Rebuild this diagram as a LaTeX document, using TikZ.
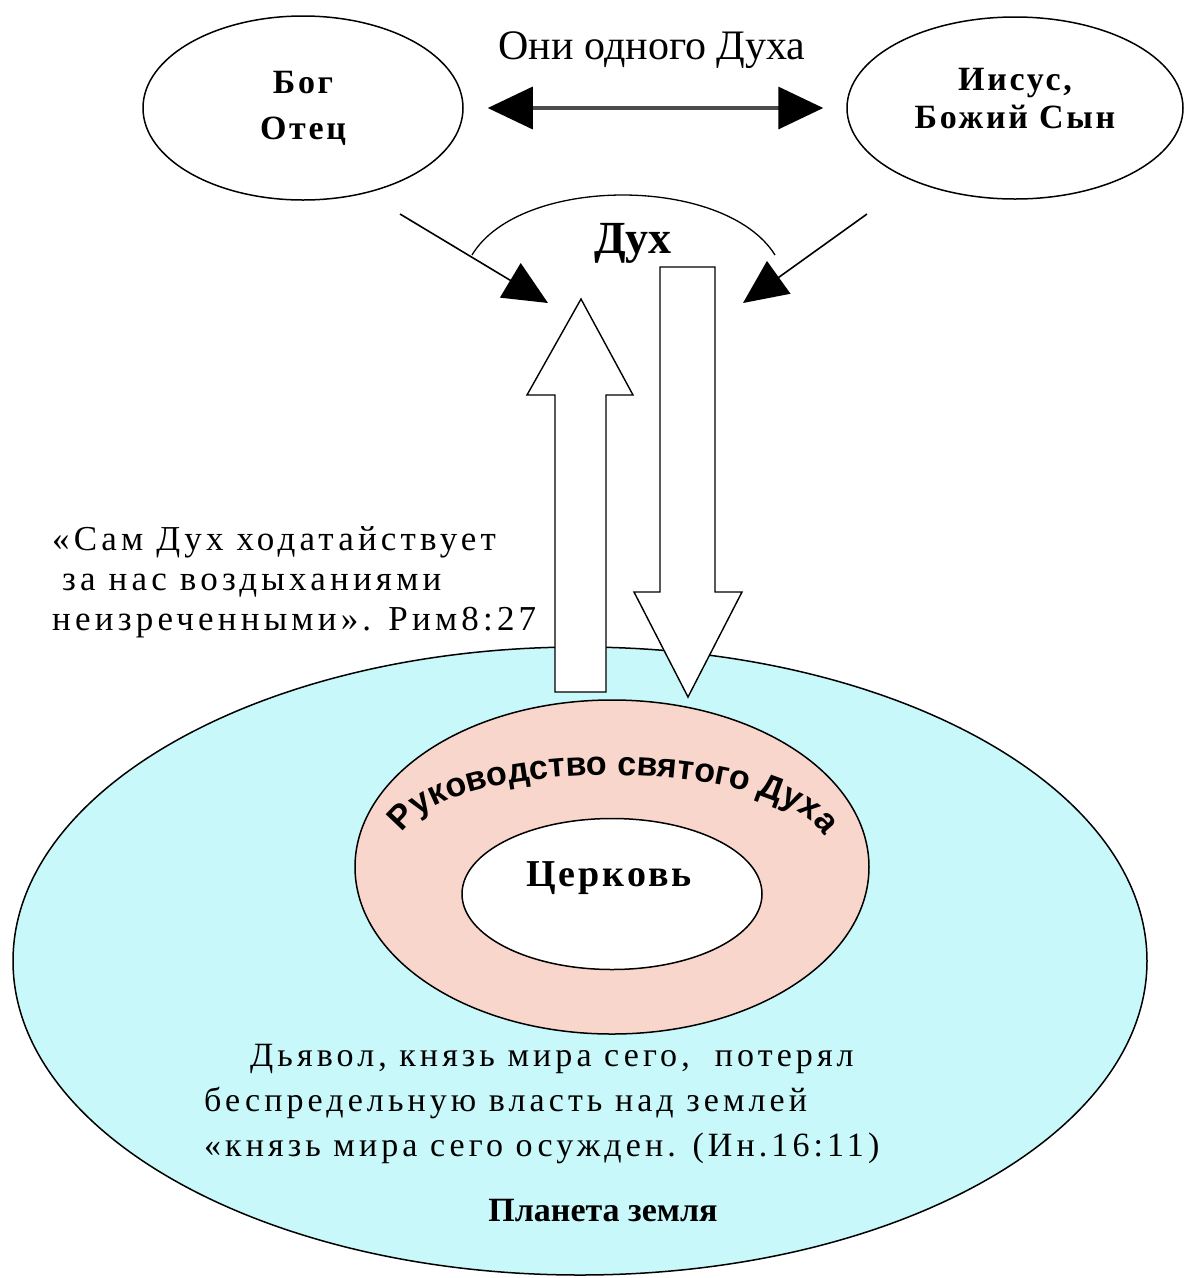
\documentclass[tikz,border=0pt]{standalone}
\usepackage{fontspec}
\setmainfont{Liberation Serif}
\newfontfamily\arialbd{Liberation Sans}
\newfontfamily\razr[LetterSpace=12]{Liberation Serif}
\newfontfamily\razrbf[LetterSpace=8]{Liberation Serif}
\usepackage{tikz}
\usetikzlibrary{calc,positioning,arrows.meta,shapes.geometric,%
  decorations.text}
\usepackage{xcolor}
\definecolor{zemlya}{RGB}{200,248,250}
\definecolor{rozov}{RGB}{249,214,204}

\begin{document}
\begin{tikzpicture}[x=1pt,y=-1pt,
  oval/.style={draw,ellipse,line width=1.5pt,inner sep=0pt},
  tonk/.style={line width=1.6pt,-{Triangle[length=44pt,width=40pt]}},
  blok/.style={draw,fill=white,line width=1.4pt,line join=miter}]
\useasboundingbox (0,0) rectangle (1184,1278);

\node[oval,minimum width=320pt,minimum height=184pt,align=center,
  font=\razrbf\bfseries\fontsize{34}{46}\selectfont] (bog) at (303,108) {Бог\\Отец};
\node[oval,minimum width=336pt,minimum height=182pt,
  label={[align=center,yshift=9pt,font=\razrbf\bfseries\fontsize{34}{38}\selectfont]center:Иисус,\\Божий Сын}]
  (iisus) at (1015,108) {};
\node[font=\fontsize{42}{42}\selectfont] (odin) at (652,50) {Они одного Духа};
\draw[line width=3.5pt,black!70,shorten <=24pt,shorten >=23pt,
  {Triangle[length=45pt,width=42pt,color=black]}-{Triangle[length=45pt,width=42pt,color=black]}]
  (bog) -- (iisus);

% Dukh and the arc over it
\node[font=\bfseries\fontsize{46}{46}\selectfont] (dux) at (633,243) {Дух};
\draw[line width=1.3pt] (472,255) .. controls (520,175) and (725,175) .. (775,255);
\coordinate (bogvniz) at (400,214);
\coordinate (levdux) at (548,303);
\coordinate (iisusvniz) at (867,214);
\coordinate (pravdux) at (743,303);
\draw[tonk] (bogvniz) -- (levdux);
\draw[tonk] (iisusvniz) -- (pravdux);

% planet, guidance, church
\node[oval,fill=zemlya,minimum width=1134pt,minimum height=628pt] (zemlya) at (580,961) {};
\node[oval,fill=rozov,minimum width=514pt,minimum height=334pt] (rukovod) at (612,867) {};
\node[oval,fill=white,minimum width=300pt,minimum height=151pt] (cerkov) at (612,894) {};
\node[font=\razrbf\bfseries\fontsize{38}{38}\selectfont] (cerkovtxt) at (609,878) {Церковь};
\path[decorate,decoration={text along path,text align=center,
  text={|\arialbd\bfseries\fontsize{34}{34}\selectfont|Руководство святого Духа}}]
  (398,843) .. controls (425,752) and (800,752) .. (828,846);

% block arrows up and down
\draw[blok] (555,692) -- (555,395) -- (527,395) -- (581,299) -- (633,395) -- (606,395) -- (606,692) -- cycle;
\draw[blok] (660,267) -- (715,267) -- (715,592) -- (742,592) -- (688,697) -- (634,592) -- (660,592) -- cycle;

\node[anchor=base west,align=left,inner sep=0pt,
  font=\razr\fontsize{35}{40}\selectfont] (rim) at (52,630)
  {«Сам Дух ходатайствует\\\hspace*{10pt}за нас воздыханиями\\неизреченными». Рим8:27};
\node[anchor=base west,align=left,inner sep=0pt,
  font=\razr\fontsize{34}{45}\selectfont] (dyavol) at (204,1156)
  {\hspace*{46pt}Дьявол, князь мира сего,\ \ потерял\\беспредельную власть над землей\\«князь мира сего осужден. (Ин.16:11)};
\node[font=\bfseries\fontsize{34}{34}\selectfont] (planeta) at (603,1211) {Планета земля};
\end{tikzpicture}
\end{document}
